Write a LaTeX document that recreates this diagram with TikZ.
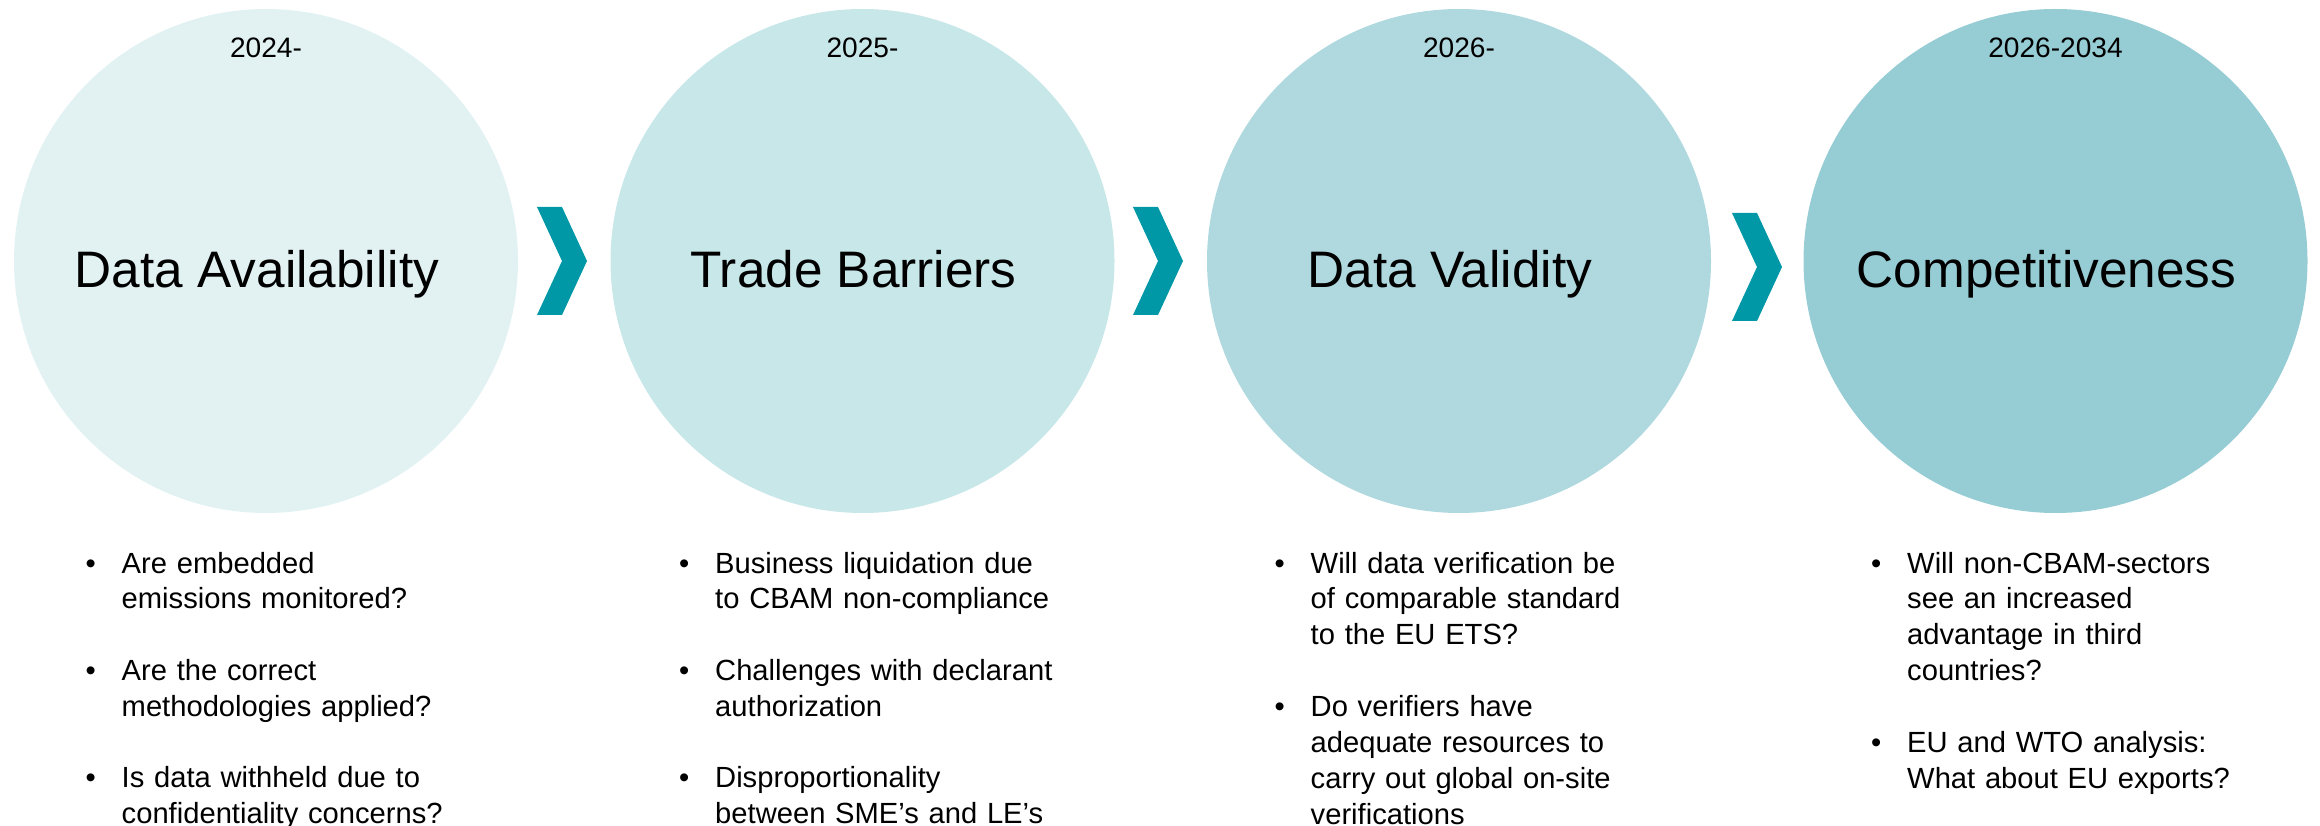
\documentclass[tikz,border=0pt]{standalone}
\usepackage{fontspec}
\setmainfont{Liberation Sans}
\usepackage{tikz}

\definecolor{phaseA}{HTML}{E2F2F3}
\definecolor{phaseB}{HTML}{C8E7E9}
\definecolor{phaseC}{HTML}{AFD9DF}
\definecolor{phaseD}{HTML}{96CCD4}
\definecolor{chevteal}{HTML}{0098A6}

\newcommand{\qitem}[1]{\hangindent=3.6mm\hangafter=1\makebox[3.6mm][l]{\textbullet}#1\par}
\newcommand{\qgap}{\vspace{10pt}}
\newcommand{\nl}{\unskip\nobreak\hfil\break}

\begin{document}
\begin{tikzpicture}[node distance={59.65mm},
  phase/.style = {circle, minimum size=50.4mm, inner sep=0pt},
  year/.style = {anchor=base, inner sep=0pt, font=\fontsize{8}{10}\selectfont},
  title/.style = {anchor=base, inner sep=0pt, font=\fontsize{14.6}{17}\selectfont},
  qlist/.style = {anchor=base west, inner sep=0pt, text width=45mm, font=\fontsize{8.3}{10.24}\selectfont}]
\useasboundingbox (0,0) rectangle (23.2,8.25);

\node[phase, fill=phaseA] (c1) at (2.66,5.64) {};
\node[phase, fill=phaseB] (c2) [right of=c1] {};
\node[phase, fill=phaseC] (c3) [right of=c2] {};
\node[phase, fill=phaseD] (c4) [right of=c3] {};

% chevrons between the phases
\foreach \x/\y in {5.62/5.64, 11.58/5.64, 17.57/5.58}
  \fill[chevteal] (\x-0.25,\y+0.54) -- ++(0.25,0) -- ++(0.25,-0.54) -- ++(-0.25,-0.54) -- ++(-0.25,0) -- ++(0.25,0.54) -- cycle;

\node[year] (y1) at ([yshift=20.35mm]c1.center) {2024-};
\node[year] (y2) at ([yshift=20.35mm]c2.center) {2025-};
\node[year] (y3) at ([yshift=20.35mm]c3.center) {2026-};
\node[year] (y4) at ([yshift=20.35mm]c4.center) {2026-2034};

\node[title] (t1) at ([xshift=-0.9mm,yshift=-2.7mm]c1.center) {Data Availability};
\node[title] (t2) at ([xshift=-0.9mm,yshift=-2.7mm]c2.center) {Trade Barriers};
\node[title] (t3) at ([xshift=-0.9mm,yshift=-2.7mm]c3.center) {Data Validity};
\node[title] (t4) at ([xshift=-0.9mm,yshift=-2.7mm]c4.center) {Competitiveness};

\node[qlist] (q1) at ([xshift=-18.1mm,yshift=-31.2mm]c1.center) {%
  \qitem{Are embedded\nl emissions monitored?}\qgap
  \qitem{Are the correct\nl methodologies applied?}\qgap
  \qitem{Is data withheld due to\nl confidentiality concerns?}};
\node[qlist] (q2) at ([xshift=-18.4mm,yshift=-31.2mm]c2.center) {%
  \qitem{Business liquidation due\nl to CBAM non-compliance}\qgap
  \qitem{Challenges with declarant\nl authorization}\qgap
  \qitem{Disproportionality\nl between SME’s and LE’s}};
\node[qlist] (q3) at ([xshift=-18.5mm,yshift=-31.2mm]c3.center) {%
  \qitem{Will data verification be\nl of comparable standard\nl to the EU ETS?}\qgap
  \qitem{Do verifiers have\nl adequate resources to\nl carry out global on-site\nl verifications}};
\node[qlist] (q4) at ([xshift=-18.5mm,yshift=-31.2mm]c4.center) {%
  \qitem{Will non-CBAM-sectors\nl see an increased\nl advantage in third\nl countries?}\qgap
  \qitem{EU and WTO analysis:\nl What about EU exports?}};
\end{tikzpicture}
\end{document}
